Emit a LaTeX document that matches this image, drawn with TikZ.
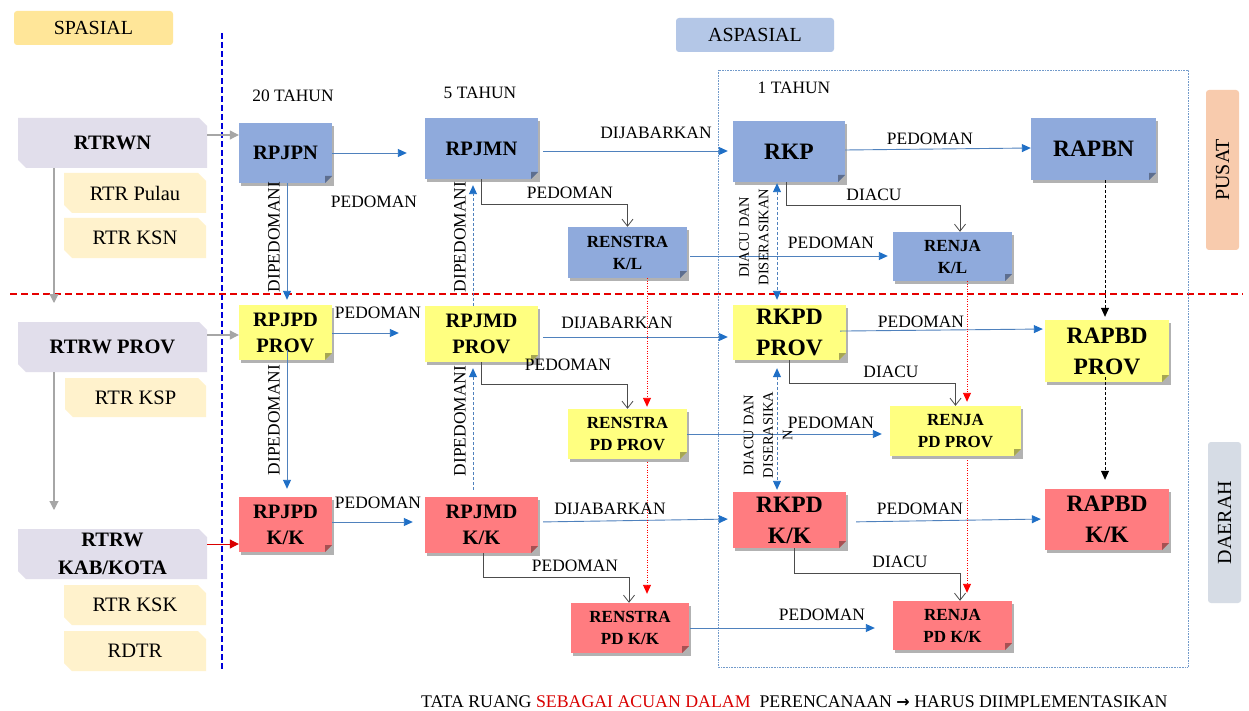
\documentclass[tikz,border=0pt]{standalone}
\usepackage{fontspec}
\setmainfont{Liberation Serif}
\newfontfamily\symfnt{DejaVu Sans}
\usetikzlibrary{arrows.meta,shadows,calc}
\definecolor{bbox}{HTML}{8FAADC}
\definecolor{ybox}{HTML}{FFFF80}
\definecolor{rbox}{HTML}{FF7C80}
\definecolor{lav}{HTML}{E1DEEB}
\definecolor{cream}{HTML}{FFF2CC}
\definecolor{spas}{HTML}{FFE699}
\definecolor{aspas}{HTML}{B4C7E7}
\definecolor{pusatc}{HTML}{F8CBAD}
\definecolor{daerahc}{HTML}{D6DCE5}
\definecolor{arrblue}{HTML}{1F6FC6}
\definecolor{lineblue}{HTML}{4F81BD}
\newcommand\fntA{\bfseries\fontsize{20.5}{26}\selectfont}
\newcommand\fntB{\bfseries\fontsize{23.5}{31}\selectfont}
\newcommand\fntC{\bfseries\fontsize{17}{22}\selectfont}
\newcommand\fntL{\fontsize{17.4}{20}\selectfont}
\newcommand\fntS{\fontsize{14.5}{19.5}\selectfont}
\newcommand\fntH{\fontsize{20}{24}\selectfont}
\newcommand\fntR{\fontsize{20.5}{28}\selectfont}
\newcommand\fntRB{\bfseries\fontsize{20.5}{28}\selectfont}
\tikzset{
 doc/.style={fill=#1, inner sep=0pt, align=center, drop shadow={shadow xshift=2pt, shadow yshift=-3pt, opacity=0.3, fill=black}},
 lbl/.style={inner sep=0pt, font=\fntL},
 rlbl/.style={inner sep=0pt, font=\fntS, align=center, rotate=90},
 barrow/.style={draw=lineblue, line width=0.9pt, -{Triangle[length=9pt,width=8pt,color=arrblue]}},
 bdash/.style={barrow, dash pattern=on 3pt off 2pt},
 bboth/.style={bdash, {Triangle[length=9pt,width=8pt,color=arrblue]}-{Triangle[length=9pt,width=8pt,color=arrblue]}},
 kdash/.style={draw=black, line width=0.8pt, dash pattern=on 3pt off 2pt, -{Triangle[length=9pt,width=8pt]}},
 rdot/.style={draw=red, line width=0.9pt, dash pattern=on 1.2pt off 1.3pt, -{Triangle[length=9pt,width=8pt]}},
 elbow/.style={draw=black!70, line width=0.8pt, -{Straight Barb[length=7pt,width=11pt]}},
 garrow/.style={draw=black!35, line width=1.1pt, -{Triangle[length=9pt,width=9pt]}},
 rarrow/.style={draw=red!85!black, line width=1pt, -{Triangle[length=9pt,width=9pt]}},
 hdr/.style={inner sep=0pt, rounded corners=3pt, font=\fntH},
}
\newcommand\docbox[8]{%
 \node[doc=#6, font=#7, minimum width={#4-#2}, minimum height={#5-#3}] (#1) at ({(#2+#4)/2},{(#3+#5)/2}) {#8};
 \fill[black!30] ({#4-7},#5) -- (#4,{#5-7}) -- (#4,#5) -- cycle;
 \fill[#6!65!black] ({#4-7},#5) -- (#4,{#5-7}) -- ({#4-7},{#5-7}) -- cycle;}
\newcommand\snipbox[8]{%
 \fill[#6] (#2,#3) -- ({#4-8},#3) -- (#4,{#3+8}) -- (#4,#5) -- ({#2+8},#5) -- (#2,{#5-8}) -- cycle;
 \node[inner sep=0pt, align=center, font=#7, minimum width={#4-#2}, minimum height={#5-#3}] (#1) at ({(#2+#4)/2},{(#3+#5)/2}) {#8};}
\begin{document}
\begin{tikzpicture}[x=1pt,y=-1pt]
\useasboundingbox (0,0) rectangle (1249,711);
\fill[white] (0,0) rectangle (1249,711);
% headers
\node[hdr, fill=spas, minimum width=159, minimum height=34] (spasial) at (93.5,28) {SPASIAL};
\node[hdr, fill=aspas, minimum width=158, minimum height=34] (aspasial) at (755,35) {ASPASIAL};
\node[hdr, fill=pusatc, minimum width=160, minimum height=33, rotate=90] (pusat) at (1222.5,170) {PUSAT};
\node[hdr, fill=daerahc, minimum width=161, minimum height=33, rotate=90] (daerah) at (1224.5,522.5) {DAERAH};
% guide lines
\draw[draw=blue!85!black, line width=2pt, dash pattern=on 6pt off 3pt] (222,33) -- (222,670);
\draw[draw=red!90!black, line width=2pt, dash pattern=on 7pt off 4pt] (10,294) -- (1243,294);
\draw[draw=lineblue!80, line width=0.6pt, densely dotted] (718,70) rectangle (1188,667);
% years
\node[lbl] (y20) at (293,96) {20 TAHUN};
\node[lbl] (y5) at (480,93) {5 TAHUN};
\node[lbl] (y1) at (794,88) {1 TAHUN};
% spatial boxes
\snipbox{RTRWN}{18}{118}{207}{168}{lav}{\fntRB}{RTRWN}
\snipbox{pulau}{64}{173}{206}{213}{cream}{\fntR}{RTR Pulau}
\snipbox{ksn}{64}{218}{206}{258}{cream}{\fntR}{RTR KSN}
\snipbox{RTRWP}{18}{322}{207}{372}{lav}{\fntRB}{RTRW PROV}
\snipbox{ksp}{65}{378}{206}{417}{cream}{\fntR}{RTR KSP}
\snipbox{RTRWK}{18}{529}{207}{579}{lav}{\fntRB}{RTRW\\KAB/KOTA}
\snipbox{ksk}{64}{585}{206}{625}{cream}{\fntR}{RTR KSK}
\snipbox{rdtr}{64}{631}{206}{671}{cream}{\fntR}{RDTR}
% planning boxes
\docbox{RPJPN}{239}{123}{332}{183}{bbox}{\fntA}{RPJPN}
\docbox{RPJMN}{425}{118}{538}{179}{bbox}{\fntA}{RPJMN}
\docbox{RKP}{733}{121}{845}{182}{bbox}{\fntB}{RKP}
\docbox{RAPBN}{1031}{118}{1156}{180}{bbox}{\fntB}{RAPBN}
\docbox{RENSTRAKL}{568}{227}{687}{278}{bbox}{\fntC}{RENSTRA\\K/L}
\docbox{RENJAKL}{893}{232}{1012}{281}{bbox}{\fntC}{RENJA\\K/L}
\docbox{RPJPDP}{239}{305}{332}{360}{ybox}{\fntA}{RPJPD\\PROV}
\docbox{RPJMDP}{425}{306}{538}{362}{ybox}{\fntA}{RPJMD\\PROV}
\docbox{RKPDP}{733}{305}{846}{360}{ybox}{\fntB}{RKPD\\PROV}
\docbox{RAPBDP}{1045}{320}{1169}{382}{ybox}{\fntB}{RAPBD\\PROV}
\docbox{RENSTRAP}{568}{409}{687}{459}{ybox}{\fntC}{RENSTRA\\PD PROV}
\docbox{RENJAP}{890}{406}{1021}{456}{ybox}{\fntC}{RENJA\\PD PROV}
\docbox{RPJPDK}{239}{497}{332}{552}{rbox}{\fntA}{RPJPD\\K/K}
\docbox{RPJMDK}{425}{497}{538}{553}{rbox}{\fntA}{RPJMD\\K/K}
\docbox{RKPDK}{733}{492}{846}{548}{rbox}{\fntB}{RKPD\\K/K}
\docbox{RAPBDK}{1045}{489}{1169}{550}{rbox}{\fntB}{RAPBD\\K/K}
\docbox{RENSTRAK}{571}{603}{689}{653}{rbox}{\fntC}{RENSTRA\\PD K/K}
\docbox{RENJAK}{893}{601}{1012}{650}{rbox}{\fntC}{RENJA\\PD K/K}
% spatial arrows
\coordinate (g1) at (54,303);
\coordinate (g2) at (54,510);
\draw[garrow] (RTRWN.south -| g1) -- (g1);
\draw[garrow] (RTRWP.south -| g2) -- (g2);
\draw[garrow] (RTRWN.east |- 0,135) -- (RPJPN.west |- 0,135);
\draw[garrow] (RTRWP.east |- 0,335) -- (RPJPDP.west |- 0,335);
\draw[rarrow] (RTRWK.east |- 0,544) -- (RPJPDK.west |- 0,544);
% horizontal arrows
\draw[barrow, shorten >=18pt] (RPJPN.east |- 0,153) -- (RPJMN.west |- 0,153);
\draw[barrow, shorten <=5pt, shorten >=5pt] (RPJMN.east |- 0,151) -- (RKP.west |- 0,151);
\draw[barrow] (RKP.east |- 0,150) -- (RAPBN.west |- 0,148);
\draw[barrow, shorten <=3pt, shorten >=5pt] (RENSTRAKL.east |- 0,256) -- (RENJAKL.west |- 0,256);
\draw[barrow, shorten >=26pt] (RPJPDP.east |- 0,333) -- (RPJMDP.west |- 0,333);
\draw[barrow, shorten <=5pt, shorten >=5pt] (RPJMDP.east |- 0,337) -- (RKPDP.west |- 0,337);
\draw[barrow, shorten <=-6pt, shorten >=2pt] (RKPDP.east |- 0,331) -- (RAPBDP.west |- 0,329);
\draw[barrow, shorten >=8pt] (RENSTRAP.east |- 0,434) -- (RENJAP.west |- 0,434);
\draw[barrow, shorten >=12pt] (RPJPDK.east |- 0,522) -- (RPJMDK.west |- 0,522);
\draw[barrow, shorten <=5pt, shorten >=5pt] (RPJMDK.east |- 0,522) -- (RKPDK.west |- 0,519);
\draw[barrow, shorten <=10pt, shorten >=4pt] (RKPDK.east |- 0,522) -- (RAPBDK.west |- 0,519);
\draw[barrow, shorten <=1pt, shorten >=18pt] (RENSTRAK.east |- 0,628) -- (RENJAK.west |- 0,628);
% vertical arrows
\draw[barrow, shorten >=5pt] (RPJPN.south -| 287,0) -- (RPJPDP.north -| 287,0);
\draw[barrow, shorten <=-10pt, shorten >=8pt] (RPJPDP.south -| 287,0) -- (RPJPDK.north -| 287,0);
\draw[bdash, shorten >=6pt] (RPJMDP.north -| 473,0) -- (RPJMN.south -| 473,0);
\draw[bdash, shorten <=7pt, shorten >=6pt] (RPJMDK.north -| 473,0) -- (RPJMDP.south -| 473,0);
\draw[bboth, shorten <=1pt, shorten >=5pt] (RKP.south -| 777,0) -- (RKPDP.north -| 777,0);
\draw[bboth, shorten <=8pt, shorten >=2pt] (RKPDP.south -| 777,0) -- (RKPDK.north -| 777,0);
\draw[kdash, shorten >=3pt] (RAPBN.south -| 1105,0) -- (RAPBDP.north -| 1105,0);
\draw[kdash, shorten <=-5pt, shorten >=9pt] (RAPBDP.south -| 1105,0) -- (RAPBDK.north -| 1105,0);
\draw[rdot, shorten >=2pt] (RENSTRAKL.south -| 647,0) -- (RENSTRAP.north -| 647,0);
\draw[rdot, shorten <=3pt, shorten >=9pt] (RENSTRAP.south -| 647,0) -- (RENSTRAK.north -| 647,0);
\draw[rdot, shorten >=4pt] (RENJAKL.south -| 967,0) -- (RENJAP.north -| 967,0);
\draw[rdot, shorten <=4pt, shorten >=8pt] (RENJAP.south -| 967,0) -- (RENJAK.north -| 967,0);
% elbows
\draw[elbow] (RPJMN.south) -- ++(0,25) -| (RENSTRAKL.north);
\draw[elbow] ([xshift=-3pt]RKP.south) -- ++(0,23) -| ([xshift=7.5pt]RENJAKL.north);
\draw[elbow] (RPJMDP.south) -- ++(0,22) -| (RENSTRAP.north);
\draw[elbow] (RKPDP.south) -- ++(0,23) -| (RENJAP.north);
\draw[elbow] ([xshift=1.5pt]RPJMDK.south) -- ++(0,24) -| ([xshift=-1pt]RENSTRAK.north);
\draw[elbow] ([xshift=4.5pt]RKPDK.south) -- ++(0,25) -| ([xshift=7.5pt]RENJAK.north);
% labels
\node[lbl] (l1) at (374,202) {PEDOMAN};
\node[lbl] (l2) at (656,133) {DIJABARKAN};
\node[lbl] (l3) at (930,139) {PEDOMAN};
\node[lbl] (l4) at (570,193) {PEDOMAN};
\node[lbl] (l5) at (874,195) {DIACU};
\node[lbl] (l6) at (831,243) {PEDOMAN};
\node[lbl, rotate=90] (l7) at (274,237) {DIPEDOMANI};
\node[lbl, rotate=90] (l8) at (460,237) {DIPEDOMANI};
\node[rlbl] (l9) at (754,237) {DIACU DAN\\DISERASIKAN};
\node[lbl] (l10) at (378,313) {PEDOMAN};
\node[lbl] (l11) at (617,323) {DIJABARKAN};
\node[lbl] (l12) at (921,322) {PEDOMAN};
\node[lbl] (l13) at (568,365) {PEDOMAN};
\node[lbl] (l14) at (891,372) {DIACU};
\node[lbl] (l15) at (831,423) {PEDOMAN};
\node[lbl, rotate=90] (l16) at (274,420) {DIPEDOMANI};
\node[lbl, rotate=90] (l17) at (460,421) {DIPEDOMANI};
\node[rlbl] (l18) at (768,435) {DIACU DAN\\DISERASIKA\\N};
\node[lbl] (l19) at (378,503) {PEDOMAN};
\node[lbl] (l20) at (610,509) {DIJABARKAN};
\node[lbl] (l21) at (920,509) {PEDOMAN};
\node[lbl] (l22) at (575,566) {PEDOMAN};
\node[lbl] (l23) at (900,562) {DIACU};
\node[lbl] (l24) at (822,615) {PEDOMAN};
% footer
\node[inner sep=0pt, font=\fontsize{17.8}{20}\selectfont, anchor=west] (foot) at (421,702) {TATA RUANG \textcolor{red!85!black}{SEBAGAI ACUAN DALAM}\ \ PERENCANAAN {\symfnt\bfseries\fontsize{16}{18}\selectfont →} HARUS DIIMPLEMENTASIKAN};
\end{tikzpicture}
\end{document}
